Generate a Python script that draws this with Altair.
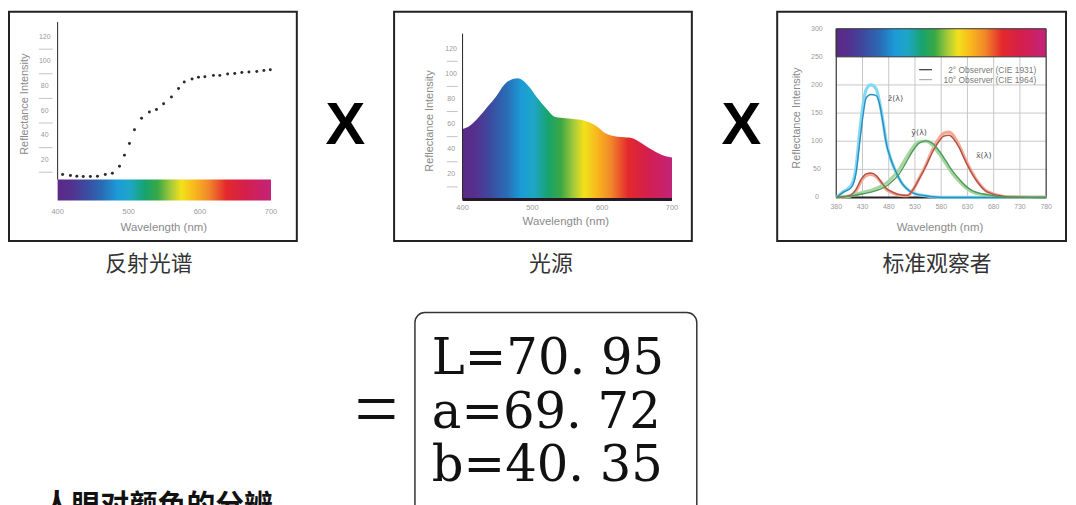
import altair as alt
import pandas as pd

# ---------------- data ----------------
# panel 1: reflectance spectrum (dots)
refl_nm = [407, 418, 427, 436, 446, 456, 467, 477, 487, 494, 501, 508, 518, 529, 539, 549,
           560, 570, 578, 589, 598, 607, 619, 628, 639, 649, 659, 669, 680, 690, 699]
refl_val = [8.1, 7.3, 6.7, 6.5, 6.5, 6.7, 8.1, 9.1, 14.8, 23.9, 33.3, 44.6, 53.8, 58.9, 61.0, 65.6,
            71.2, 78.0, 83.3, 85.8, 87.1, 87.6, 88.7, 88.7, 89.8, 90.3, 91.1, 91.4, 91.9, 92.7, 93.3]

# panel 2: light source spectrum
illum_nm = [400, 410, 424, 436, 448, 460, 472, 479, 486, 495, 507, 519, 533, 548, 562, 576,
            590, 604, 616, 628, 642, 656, 670, 685, 700]
illum_val = [56, 58.5, 66, 74, 82, 91.5, 96, 96.6, 95, 90, 81, 73, 65.6, 64.6, 63.8, 62.5,
             59, 53, 50.6, 49.8, 49, 45, 40, 35.6, 33.4]

# panel 3: standard observer curves
zbar_nm = [380, 393, 409, 418, 424, 431, 437, 446, 456, 462, 469, 475, 484, 494, 506, 519, 532, 550, 580, 780]
zbar2_val = [0, 9, 18, 45, 92, 145, 177, 183, 181, 168, 133, 98, 68, 45, 24, 12, 6, 3, 0, 0]
zbar10_val = [0, 10, 22, 55, 110, 165, 192, 200, 193, 172, 136, 100, 68, 44, 24, 12, 6, 3, 0, 0]

xbar_nm = [380, 405, 418, 428, 437, 446, 456, 466, 475, 488, 500, 516, 525, 538, 551, 563, 576,
           585, 595, 604, 614, 626, 639, 652, 664, 677, 690, 708, 780]
xbar2_val = [0, 3, 15, 33, 42, 43.5, 39, 27, 16.5, 9, 5, 3.5, 12, 33, 56, 80, 100,
             109, 110.5, 103.5, 89, 65, 42, 24, 12, 6.5, 3.5, 1, 0]
xbar10_val = [0, 2, 12, 30, 39, 41, 37, 26, 15, 8, 4, 3, 12, 34, 58, 84, 105,
              114, 116, 109, 93, 68, 44, 25, 13, 7, 3.5, 1, 0]

ybar_nm = [380, 405, 431, 456, 481, 500, 513, 526, 538, 551, 563, 576, 589, 601, 614, 626, 639, 658, 677, 696, 780]
ybar2_val = [0, 2, 6.5, 12, 24, 42, 62, 83, 96.5, 100.6, 96.5, 83, 65, 47.6, 33, 21, 12, 6.5, 3.5, 1, 0]
ybar10_val = [0, 3, 9, 16, 30, 50, 70, 89, 99, 100, 93, 78, 60, 43, 29, 18, 10, 5, 2.5, 1, 0]

curve_label_text = ["z\u0304(\u03bb)", "y\u0304(\u03bb)", "x\u0304(\u03bb)"]
curve_label_nm = [493, 538, 661]
curve_label_val = [175, 115, 74]

legend_text = ["2\u00b0 Observer (CIE 1931)", "10\u00b0 Observer (CIE 1964)"]

# axis ticks
p12_xticks = [400, 500, 600, 700]
p12_yticks = [20, 40, 60, 80, 100, 120]
p12_minor = [10, 30, 50, 70, 90, 110]
p3_xticks = [380, 430, 480, 530, 580, 630, 680, 730, 780]
p3_yticks = [0, 50, 100, 150, 200, 250, 300]
p3_xgrid = [430, 480, 530, 580, 630, 680, 730]
p3_ygrid = [50, 100, 150, 200]

captions = ["反射光谱", "光源", "标准观察者"]
axis_y_title = "Reflectance Intensity"
axis_x_title = "Wavelength (nm)"

lab_names = ["L", "a", "b"]
lab_values = [70.95, 69.72, 40.35]
bottom_text = "人眼对颜色的分辨"

# ---------------- styles ----------------
SANS = "Liberation Sans"
CJK = "Noto Sans CJK SC"
SERIF = "DejaVu Serif"
TICK_C = "#9a9a9a"
TITLE_C = "#8a8a8a"
spectrum_stops = [(0.00, "#5b2a86"), (0.06, "#55308f"), (0.13, "#3d4a9e"), (0.21, "#2a6cb5"),
                  (0.28, "#1c9bd7"), (0.34, "#1ea6c6"), (0.41, "#17a36c"), (0.47, "#3aa844"),
                  (0.53, "#a6c93a"), (0.58, "#f2e11b"), (0.64, "#f8b81e"), (0.71, "#f1862a"),
                  (0.79, "#e3292c"), (0.88, "#d41f4c"), (1.00, "#c2237a")]
SPECTRUM = alt.Gradient(gradient="linear",
                        stops=[alt.GradientStop(offset=o, color=c) for o, c in spectrum_stops],
                        x1=0, x2=1, y1=0, y2=0)

ONE = pd.DataFrame({"k": [0]})


def sc(domain, rng):
    return alt.Scale(domain=domain, range=rng, nice=False, zero=False)


# pixel scales of the three panels (chart coordinates)
P1X, P1Y = sc([400, 700], [50, 265]), sc([0, 130], [176, 14.8])
P2X, P2Y = sc([400, 700], [458, 669]), sc([0, 130], [191, 26.55])
P3X, P3Y = sc([380, 780], [834.5, 1046]), sc([0, 300], [189, 19])


def X(f, s):
    return alt.X(f, scale=s, axis=None)


def Y(f, s):
    return alt.Y(f, scale=s, axis=None)


def fixed_text(txt, x, y, **kw):
    return alt.Chart(ONE).mark_text(text=txt, **kw).encode(x=alt.value(x), y=alt.value(y))


def box(x0, x1, y0, y1, **kw):
    return alt.Chart(ONE).mark_rect(fill="white", fillOpacity=0, **kw).encode(
        x=alt.value(x0), x2=alt.value(x1), y=alt.value(y0), y2=alt.value(y1))


layers = []


def simple_panel(SX, SY, box_x, ytick_x, minor_x, xlab_y, xtitle_xy, ytitle_xy, axis_y0):
    layers.append(box(box_x[0], box_x[1], 2, 233, stroke="#222", strokeWidth=2))
    # axis line
    layers.append(alt.Chart(pd.DataFrame({"x": [400], "a": [axis_y0], "b": [132]}))
                  .mark_rule(color="#222", strokeWidth=1)
                  .encode(x=X("x:Q", SX), y=Y("a:Q", SY), y2="b"))
    # minor ticks
    layers.append(alt.Chart(pd.DataFrame({"v": p12_minor})).mark_rule(color="#c4c4c4", strokeWidth=1)
                  .encode(y=Y("v:Q", SY), x=alt.value(minor_x[0]), x2=alt.value(minor_x[1])))
    layers.append(alt.Chart(pd.DataFrame({"v": p12_yticks}))
                  .mark_text(font=SANS, fontSize=7, color=TICK_C, align="center", baseline="middle")
                  .encode(y=Y("v:Q", SY), x=alt.value(ytick_x), text=alt.Text("v:Q", format="d")))
    layers.append(alt.Chart(pd.DataFrame({"v": p12_xticks}))
                  .mark_text(font=SANS, fontSize=7.5, color=TICK_C, align="center", baseline="middle")
                  .encode(x=X("v:Q", SX), y=alt.value(xlab_y), text=alt.Text("v:Q", format="d")))
    layers.append(fixed_text(axis_x_title, xtitle_xy[0], xtitle_xy[1], font=SANS, fontSize=11.5,
                             color=TITLE_C, align="center", baseline="middle"))
    layers.append(fixed_text(axis_y_title, ytitle_xy[0], ytitle_xy[1], font=SANS, fontSize=11,
                             color=TITLE_C, align="center", baseline="middle", angle=270))


# ---------------- panel 1 ----------------
layers.append(alt.Chart(pd.DataFrame({"a": [400], "b": [700]})).mark_rect(fill=SPECTRUM)
              .encode(x=X("a:Q", P1X), x2="b", y=alt.value(171), y2=alt.value(192)))
simple_panel(P1X, P1Y, (1, 291), 37, (31, 45), 204, (157, 220), (17, 95), 4)
layers.append(alt.Chart(pd.DataFrame({"nm": refl_nm, "v": refl_val}))
              .mark_circle(size=9, color="#2a2a2a", opacity=1)
              .encode(x=X("nm:Q", P1X), y=Y("v:Q", P1Y)))

# ---------------- panel 2 ----------------
layers.append(alt.Chart(pd.DataFrame({"nm": illum_nm, "v": illum_val}))
              .mark_area(fill=SPECTRUM, interpolate="monotone")
              .encode(x=X("nm:Q", P2X), y=Y("v:Q", P2Y), y2=alt.datum(0)))
layers.append(alt.Chart(pd.DataFrame({"a": [400], "b": [700], "v": [0]}))
              .mark_rule(color="#231a26", strokeWidth=3)
              .encode(x=X("a:Q", P2X), x2="b", y=Y("v:Q", P2Y)))
simple_panel(P2X, P2Y, (389, 689), 446.5, (442, 453), 200, (562, 214), (425, 112), 0)

# ---------------- panel 3 ----------------
layers.append(box(775, 1066, 2, 233, stroke="#222", strokeWidth=2))
layers.append(alt.Chart(pd.DataFrame({"v": p3_ygrid, "a": [380] * 4, "b": [780] * 4}))
              .mark_rule(color="#c8c8c8", strokeWidth=1)
              .encode(y=Y("v:Q", P3Y), x=X("a:Q", P3X), x2="b"))
layers.append(alt.Chart(pd.DataFrame({"v": p3_xgrid, "a": [0] * 7, "b": [250] * 7}))
              .mark_rule(color="#c8c8c8", strokeWidth=1)
              .encode(x=X("v:Q", P3X), y=Y("a:Q", P3Y), y2="b"))
layers.append(alt.Chart(pd.DataFrame({"a": [380], "b": [780], "c": [250], "d": [300]}))
              .mark_rect(fill=SPECTRUM, stroke="#333", strokeWidth=1)
              .encode(x=X("a:Q", P3X), x2="b", y=Y("c:Q", P3Y), y2="d"))
# plot frame
layers.append(alt.Chart(pd.DataFrame({"x": [380, 780], "a": [0, 0], "b": [300, 250]}))
              .mark_rule(color="#333", strokeWidth=1.2)
              .encode(x=X("x:Q", P3X), y=Y("a:Q", P3Y), y2="b"))
layers.append(alt.Chart(pd.DataFrame({"a": [380], "b": [780], "v": [0]}))
              .mark_rule(color="#222", strokeWidth=2)
              .encode(x=X("a:Q", P3X), x2="b", y=Y("v:Q", P3Y)))

curves = [
    (zbar_nm, zbar10_val, "#84d8f0", 3.2),
    (xbar_nm, xbar10_val, "#f5a894", 3.2),
    (ybar_nm, ybar10_val, "#a6d6a0", 3.2),
    (zbar_nm, zbar2_val, "#2b8cc0", 1.4),
    (xbar_nm, xbar2_val, "#b0524a", 1.4),
    (ybar_nm, ybar2_val, "#4f9a5a", 1.4),
]
for nm, val, col, w in curves:
    layers.append(alt.Chart(pd.DataFrame({"nm": nm, "v": val}))
                  .mark_line(color=col, strokeWidth=w, interpolate="monotone")
                  .encode(x=X("nm:Q", P3X), y=Y("v:Q", P3Y)))

layers.append(alt.Chart(pd.DataFrame({"t": curve_label_text, "nm": curve_label_nm, "v": curve_label_val}))
              .mark_text(font="DejaVu Sans", fontSize=8, color="#555", align="center", baseline="middle")
              .encode(x=X("nm:Q", P3X), y=Y("v:Q", P3Y), text="t:N"))

# legend
for i, (t, col) in enumerate(zip(legend_text, ["#333333", "#aaaaaa"])):
    yy = 60.3 + 10 * i
    layers.append(alt.Chart(ONE).mark_rule(color=col, strokeWidth=1.2)
                  .encode(x=alt.value(918), x2=alt.value(931), y=alt.value(yy)))
    layers.append(fixed_text(t, 1036, yy, font=SANS, fontSize=8.5, color="#7a7a7a",
                             align="right", baseline="middle"))

layers.append(alt.Chart(pd.DataFrame({"v": p3_yticks}))
              .mark_text(font=SANS, fontSize=7, color=TICK_C, align="center", baseline="middle")
              .encode(y=Y("v:Q", P3Y), x=alt.value(815), text=alt.Text("v:Q", format="d")))
layers.append(alt.Chart(pd.DataFrame({"v": p3_xticks}))
              .mark_text(font=SANS, fontSize=7, color=TICK_C, align="center", baseline="middle")
              .encode(x=X("v:Q", P3X), y=alt.value(199), text=alt.Text("v:Q", format="d")))
layers.append(fixed_text(axis_x_title, 939, 220, font=SANS, fontSize=11.5, color=TITLE_C,
                         align="center", baseline="middle"))
layers.append(fixed_text(axis_y_title, 795, 109, font=SANS, fontSize=11, color=TITLE_C,
                         align="center", baseline="middle", angle=270))

# captions and operators
for txt, cx in zip(captions, [142, 547, 936]):
    layers.append(fixed_text(txt, cx, 263, font=CJK, fontSize=22, color="#333",
                             align="center", baseline="alphabetic"))
for cx in [340, 739]:
    layers.append(fixed_text("X", cx, 135, font=SANS, fontSize=60, fontWeight="bold",
                             color="#000", align="center", baseline="alphabetic"))

# ---------------- bottom: result ----------------
layers.append(fixed_text("=", 371, 428, font="Liberation Serif", fontSize=78, color="#111",
                         align="center", baseline="alphabetic"))
layers.append(alt.Chart(ONE).mark_rect(fill="white", fillOpacity=0, stroke="#333", strokeWidth=1.5,
                                       cornerRadius=10)
              .encode(x=alt.value(410), x2=alt.value(694), y=alt.value(305), y2=alt.value(520)))
lab_df = pd.DataFrame({
    "row": [0, 1, 2],
    "t": [f"{n}={v:.2f}".replace(".", ". ") for n, v in zip(lab_names, lab_values)],
})
layers.append(alt.Chart(lab_df).mark_text(font=SERIF, fontSize=50, color="#111",
                                          align="left", baseline="alphabetic")
              .encode(y=Y("row:Q", sc([0, 2], [367, 475])), x=alt.value(427), text="t:N"))
layers.append(fixed_text(bottom_text, 35, 509, font=CJK, fontSize=29, fontWeight="bold",
                         color="#111", align="left", baseline="alphabetic"))

chart = (alt.layer(*layers)
         .resolve_scale(x="independent", y="independent")
         .properties(width=1068, height=497, padding=0,
                     autosize=alt.AutoSizeParams(type="none"), background="white")
         .configure_view(stroke=None))

chart.save("out.html", embed_options={"renderer": "svg", "actions": False})
